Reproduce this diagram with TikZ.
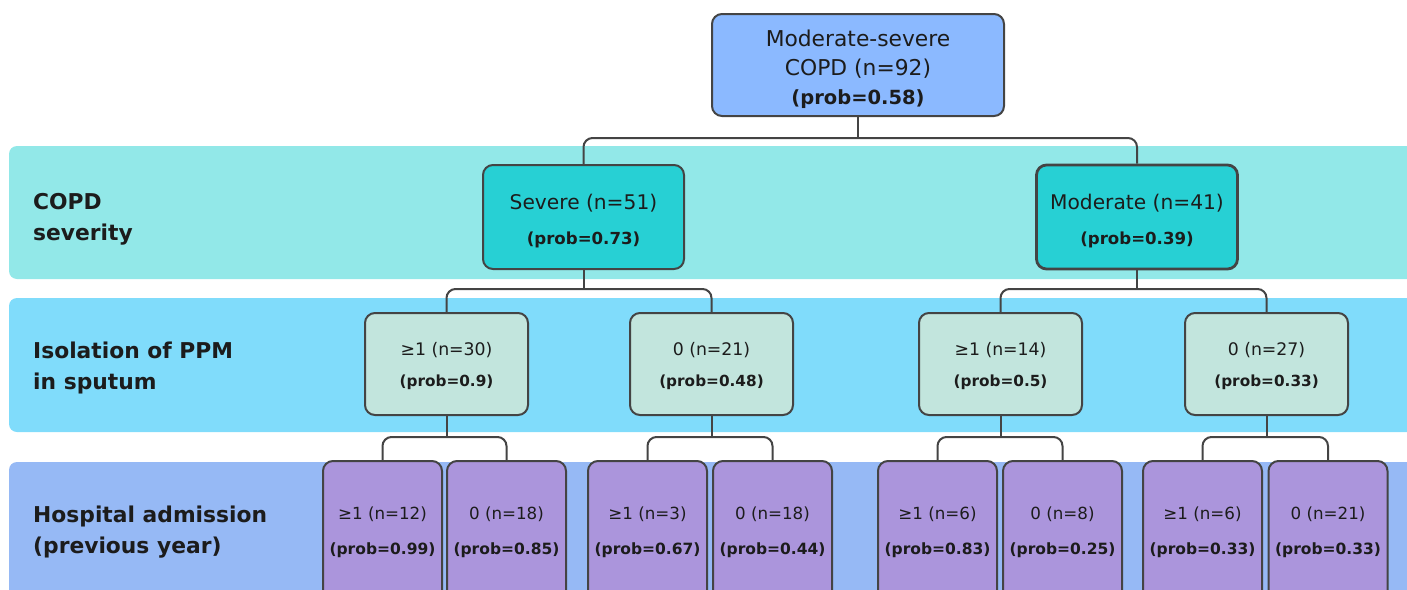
\documentclass[tikz,border=0pt]{standalone}
\usepackage{fontspec}
\setmainfont{DejaVu Sans}
\usetikzlibrary{calc}
\definecolor{bandA}{HTML}{92E8E8}
\definecolor{bandB}{HTML}{80DCFB}
\definecolor{bandC}{HTML}{96B9F5}
\definecolor{topc}{HTML}{8BB9FF}
\definecolor{sevc}{HTML}{27D0D4}
\definecolor{isoc}{HTML}{C2E5DD}
\definecolor{hosc}{HTML}{AB95DC}
\definecolor{linec}{HTML}{444444}
\definecolor{textc}{HTML}{1C1C1C}
\tikzset{
  band/.style={fill=#1, draw=none, rounded corners=8pt},
  box/.style={draw=linec, line width=2pt, rounded corners=10pt, inner sep=0pt},
  txt/.style={align=center, inner sep=0pt, text=textc},
  conn/.style={draw=linec, line width=2pt, rounded corners=9pt},
  rowlabel/.style={anchor=west, align=left, inner sep=0pt, text=textc, font=\bfseries\fontsize{21.8}{31}\selectfont},
  topbox/.style={box, fill=topc, minimum width=292pt, minimum height=102pt},
  toptext/.style={txt, font=\fontsize{21.8}{29}\selectfont, yshift=-4pt},
  sevbox/.style={box, fill=sevc, minimum width=201pt, minimum height=104pt},
  sevtext/.style={txt, font=\fontsize{20.2}{35}\selectfont, yshift=-4.5pt},
  isobox/.style={box, fill=isoc, minimum width=163pt, minimum height=102pt},
  isotext/.style={txt, font=\fontsize{17.3}{31}\selectfont, yshift=-2pt},
  hosbox/.style={box, fill=hosc, minimum width=119pt, minimum height=140pt},
  hostext/.style={txt, font=\fontsize{16.7}{35}\selectfont, yshift=-1.5pt},
}
\newcommand\pb[2]{{\bfseries\fontsize{#1}{#1}\selectfont #2}}
\begin{document}
\begin{tikzpicture}[x=1pt,y=-1pt]
\useasboundingbox (0,0) rectangle (1407,589);
% bands
\fill[band=bandA] (9,146) rectangle (1430,279);
\fill[band=bandB] (9,298) rectangle (1430,432);
\fill[band=bandC] (9,462) rectangle (1430,640);
% row labels
\node[rowlabel] (l1) at (33,219.5) {COPD\\severity};
\node[rowlabel] (l2) at (33,368) {Isolation of PPM\\in sputum};
\node[rowlabel] (l3) at (33,532) {Hospital admission\\(previous year)};
% nodes
\node[topbox, label={[toptext]center:{Moderate-severe\\COPD (n=92)\\\pb{19.5}{(prob=0.58)}}}] (top) at (858,65) {};
\node[sevbox, label={[sevtext]center:{Severe (n=51)\\\pb{16.6}{(prob=0.73)}}}] (s1) at (583.5,217) {};
\node[sevbox, line width=2.8pt, label={[sevtext]center:{Moderate (n=41)\\\pb{16.6}{(prob=0.39)}}}] (s2) at (1137,217) {};
\node[isobox, label={[isotext]center:{≥1 (n=30)\\\pb{15.3}{(prob=0.9)}}}] (i1) at (446.5,364) {};
\node[isobox, label={[isotext]center:{0 (n=21)\\\pb{15.3}{(prob=0.48)}}}] (i2) at (711.5,364) {};
\node[isobox, label={[isotext]center:{≥1 (n=14)\\\pb{15.3}{(prob=0.5)}}}] (i3) at (1000.5,364) {};
\node[isobox, label={[isotext]center:{0 (n=27)\\\pb{15.3}{(prob=0.33)}}}] (i4) at (1266.5,364) {};
\node[hosbox, label={[hostext]center:{≥1 (n=12)\\\pb{15.5}{(prob=0.99)}}}] (h1) at (382.5,531) {};
\node[hosbox, label={[hostext]center:{0 (n=18)\\\pb{15.5}{(prob=0.85)}}}] (h2) at (506.5,531) {};
\node[hosbox, label={[hostext]center:{≥1 (n=3)\\\pb{15.5}{(prob=0.67)}}}] (h3) at (647.5,531) {};
\node[hosbox, label={[hostext]center:{0 (n=18)\\\pb{15.5}{(prob=0.44)}}}] (h4) at (772.5,531) {};
\node[hosbox, label={[hostext]center:{≥1 (n=6)\\\pb{15.5}{(prob=0.83)}}}] (h5) at (937.5,531) {};
\node[hosbox, label={[hostext]center:{0 (n=8)\\\pb{15.5}{(prob=0.25)}}}] (h6) at (1062.5,531) {};
\node[hosbox, label={[hostext]center:{≥1 (n=6)\\\pb{15.5}{(prob=0.33)}}}] (h7) at (1202.5,531) {};
\node[hosbox, label={[hostext]center:{0 (n=21)\\\pb{15.5}{(prob=0.33)}}}] (h8) at (1328,531) {};
% junctions
\coordinate (j0) at (858,138);
\coordinate (j1) at (583.5,289);
\coordinate (j2) at (1137,289);
\coordinate (j3) at (446.5,437);
\coordinate (j4) at (711.5,437);
\coordinate (j5) at (1000.5,437);
\coordinate (j6) at (1266.5,437);
% connectors
\draw[conn] (top.south) -- (j0);
\draw[conn] (s1.north) |- (j0) -| (s2.north);
\draw[conn] (s1.south) -- (j1);
\draw[conn] (i1.north) |- (j1) -| (i2.north);
\draw[conn] (s2.south) -- (j2);
\draw[conn] (i3.north) |- (j2) -| (i4.north);
\draw[conn] (i1.south) -- (j3);
\draw[conn] (h1.north) |- (j3) -| (h2.north);
\draw[conn] (i2.south) -- (j4);
\draw[conn] (h3.north) |- (j4) -| (h4.north);
\draw[conn] (i3.south) -- (j5);
\draw[conn] (h5.north) |- (j5) -| (h6.north);
\draw[conn] (i4.south) -- (j6);
\draw[conn] (h7.north) |- (j6) -| (h8.north);
\end{tikzpicture}
\end{document}
